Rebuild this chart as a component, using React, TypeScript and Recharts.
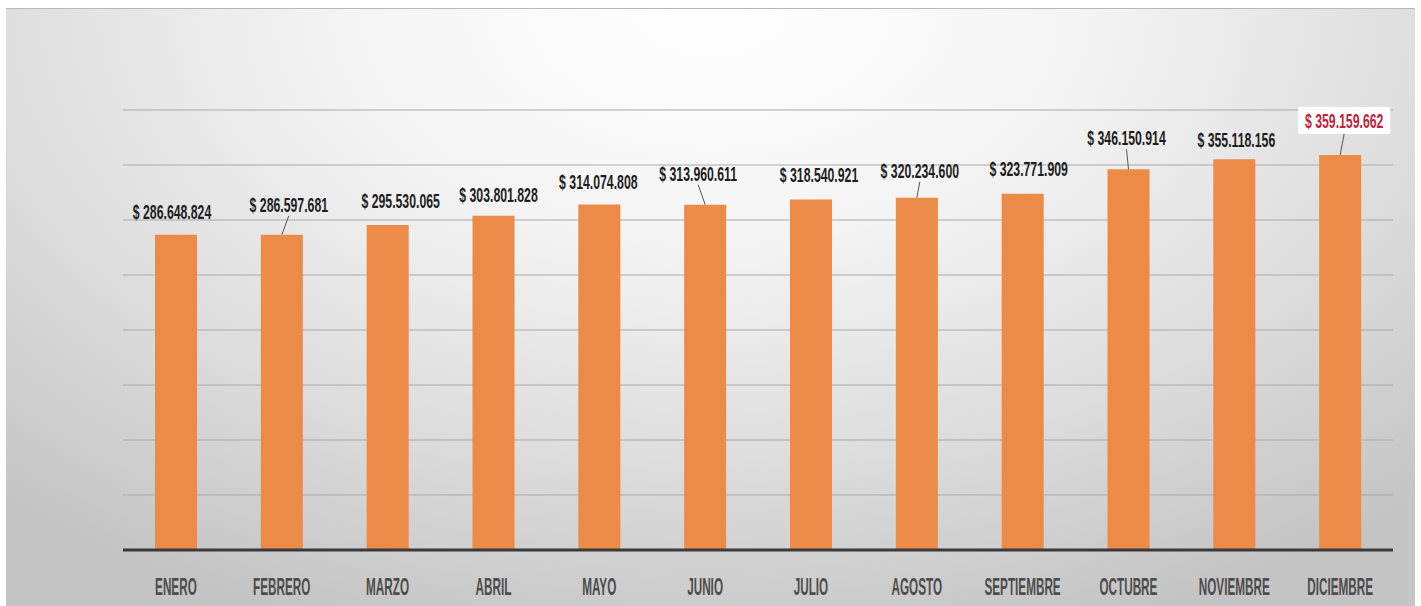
import React from 'react';
import { BarChart, Bar, XAxis, YAxis, CartesianGrid, LabelList } from 'recharts';

const MONTHS = [
  'ENERO', 'FEBRERO', 'MARZO', 'ABRIL', 'MAYO', 'JUNIO',
  'JULIO', 'AGOSTO', 'SEPTIEMBRE', 'OCTUBRE', 'NOVIEMBRE', 'DICIEMBRE',
];

const REVENUE = [
  286648824, 286597681, 295530065, 303801828, 314074808, 313960611,
  318540921, 320234600, 323771909, 346150914, 355118156, 359159662,
];

const Y_TICKS = [0, 50000000, 100000000, 150000000, 200000000, 250000000, 300000000, 350000000, 400000000];

const data = MONTHS.map((m, i) => ({ month: m, value: REVENUE[i] }));

// hand placement of the data labels (as in the original sheet)
const LIFT = [16, 23, 17, 14, 16, 24, 18, 20, 18, 24, 12, 27];
const SHIFT = [-4, 7, 13, 5, -1, -7, 8, 3, 6, -2, 2, 4];
const LEADER = [1, 5, 7, 9, 11];
const HIGHLIGHT = 11;

const FONT = '"Liberation Sans", Arial, sans-serif';

const money = (v: number) => '$ ' + String(v).replace(/\B(?=(\d{3})+(?!\d))/g, '.');

const ValueLabel = (props: any) => {
  const { x, y, width, value } = props;
  const i = props.index ?? REVENUE.indexOf(value);
  const cx = x + width / 2;
  const tx = cx + SHIFT[i];
  const base = y - LIFT[i];
  const hot = i === HIGHLIGHT;
  return (
    <g>
      {hot && (
        <rect x={tx - 46} y={base - 21} width={92} height={27} fill="#ffffff" />
      )}
      {LEADER.includes(i) && (
        <line x1={tx} y1={base + (hot ? 6 : 4)} x2={cx} y2={y} stroke="#555" strokeWidth={1} />
      )}
      <text
        transform={`translate(${tx},${base}) scale(0.585,1)`}
        textAnchor="middle"
        fontFamily={FONT}
        fontWeight="bold"
        fontSize={21}
        fill={hot ? '#c0243c' : '#1e1e1e'}
      >
        {money(value)}
      </text>
    </g>
  );
};

const MonthTick = (props: any) => {
  const { x, y, payload } = props;
  return (
    <text
      transform={`translate(${x},${y + 37}) scale(0.51,1)`}
      textAnchor="middle"
      fontFamily={FONT}
      fontWeight="bold"
      fontSize={23}
      fill="#4d4d4d"
    >
      {payload.value}
    </text>
  );
};

export default function App() {
  return (
    <div style={{ position: 'absolute', left: 0, top: 0, width: 1421, height: 606, background: '#fff', overflow: 'hidden' }}>
      <div
        style={{
          position: 'absolute',
          left: 6,
          top: 8,
          width: 1409,
          height: 598,
          borderTop: '1px solid #b8b8b8',
          background: 'radial-gradient(ellipse 75% 110% at 50% 0%, #ffffff 0%, #f4f4f4 35%, #dcdcdc 70%, #c4c4c4 100%)',
        }}
      >
        <BarChart
          width={1409}
          height={597}
          data={data}
          margin={{ top: 101, right: 22, bottom: 16, left: 117 }}
        >
          <CartesianGrid
            vertical={false}
            stroke="#a9a9a9"
            strokeWidth={1}
            horizontalValues={Y_TICKS}
          />
          <YAxis
            domain={[0, 400000000]}
            ticks={Y_TICKS}
            tick={() => <g />}
            axisLine={false}
            tickLine={false}
            width={0}
          />
          <XAxis
            dataKey="month"
            height={40}
            stroke="#3a3a3a"
            axisLine={{ stroke: '#3a3a3a', strokeWidth: 3 }}
            tickLine={false}
            tick={<MonthTick />}
            interval={0}
          />
          <Bar dataKey="value" fill="#ec8a48" barSize={42} isAnimationActive={false}>
            <LabelList dataKey="value" content={<ValueLabel />} />
          </Bar>
        </BarChart>
      </div>
    </div>
  );
}
